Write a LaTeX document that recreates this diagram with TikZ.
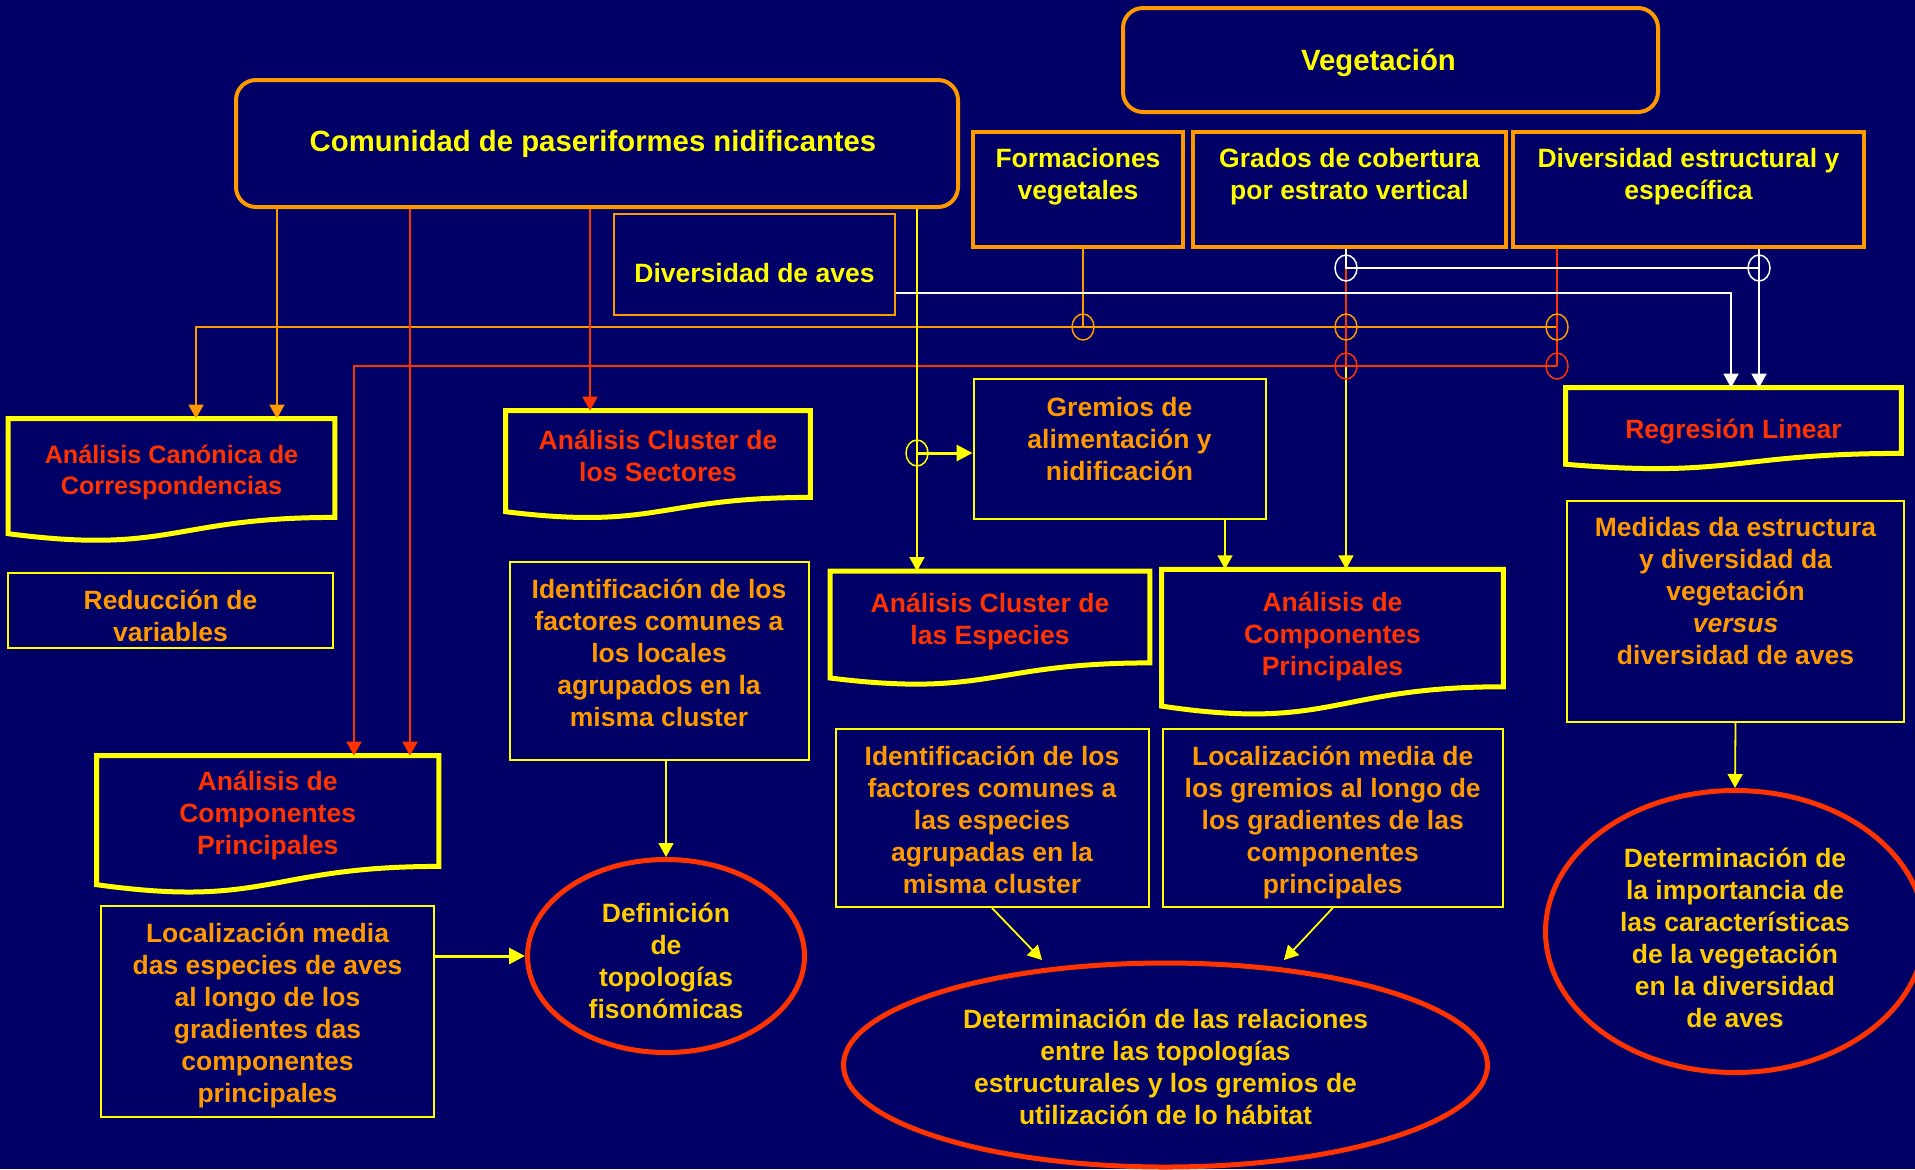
\documentclass[tikz,border=0pt]{standalone}
\usepackage{fontspec}
\setmainfont{Liberation Sans}
\usetikzlibrary{arrows.meta,calc,shapes.geometric}
\definecolor{bgnavy}{RGB}{0,0,102}
\definecolor{cyel}{RGB}{255,255,0}
\definecolor{corg}{RGB}{255,153,0}
\definecolor{cred}{RGB}{255,51,0}
\definecolor{cgold}{RGB}{255,204,0}
\newcommand{\pushup}[1]{\rule[-#1]{0pt}{0pt}}
\newcommand{\pushdn}[1]{\rule{0pt}{#1}}
\newcommand{\docborder}[1]{%
  \draw[docline] (#1.north west) -- (#1.north east) -- (#1.south east)
    .. controls (#1.south) and ($(#1.north)!1.381!(#1.south)$)
    .. ($(#1.north west)!1.1646!(#1.south west)$) -- cycle;}
\tikzset{
  basefont/.style={font=\fontsize{13.25}{16}\selectfont\bfseries},
  bigfont/.style={font=\fontsize{14.65}{17.6}\selectfont\bfseries},
  smallfont/.style={font=\fontsize{12.6}{15.3}\selectfont\bfseries},
  tbox/.style={basefont, align=center, inner sep=0pt},
  roundbox/.style={tbox, bigfont, draw=corg, line width=2pt, rounded corners=10pt, text=cyel},
  topbox/.style={tbox, draw=corg, line width=2pt, text=cyel},
  avesbox/.style={tbox, draw=corg, line width=1pt, text=cyel},
  docnode/.style={tbox, text=cred},
  docline/.style={draw=cyel, line width=2.5pt, line join=miter},
  thinbox/.style={tbox, draw=cyel, line width=1pt, text=corg},
  bigell/.style={tbox, ellipse, draw=cred, line width=2.5pt, text=cgold},
  jell/.style={ellipse, inner sep=0pt, minimum width=11pt, minimum height=13pt, line width=0.75pt},
  con/.style={line width=0.9pt},
  arr/.style={-{Triangle[length=7pt,width=7.5pt]}},
  thickarr/.style={line width=1.5pt, -{Triangle[length=8pt,width=8pt]}},
}
\begin{document}
\begin{tikzpicture}[x=0.5pt,y=-0.5pt]
\useasboundingbox (0,0) rectangle (1915,1169);
\fill[bgnavy] (0,0) rectangle (1915,1169);

% ---------- top boxes
\node[roundbox, minimum width=267.5pt, minimum height=52pt] (veg) at (1390.5,60) {\pushdn{13.4pt}Vegetación\hspace*{12pt}};
\node[roundbox, minimum width=361pt, minimum height=63.5pt] (com) at (597,143.5) {Comunidad de paseriformes nidificantes\hspace*{4pt}};
\node[topbox, minimum width=105pt, minimum height=57.5pt] (form) at (1078,189.5) {Formaciones\\vegetales\pushup{15.3pt}};
\node[topbox, minimum width=156.5pt, minimum height=57.5pt] (grad) at (1349.5,189.5) {Grados de cobertura\\por estrato vertical\pushup{15.3pt}};
\node[topbox, minimum width=175.5pt, minimum height=57.5pt] (dive) at (1688.5,189.5) {Diversidad estructural y\\específica\pushup{15.3pt}};
\node[avesbox, minimum width=140.5pt, minimum height=50.5pt] (aves) at (754.5,264.5) {\pushdn{18pt}Diversidad de aves};

% ---------- document shapes
\node[docnode, smallfont, minimum width=163pt, minimum height=49pt] (acc) at (171.5,468) {\pushdn{13.5pt}Análisis Canónica de\\Correspondencias};
\node[docnode, minimum width=152pt, minimum height=43pt] (cls) at (658,454) {\pushdn{12.1pt}Análisis Cluster de\\los Sectores};
\node[docnode, minimum width=167.5pt, minimum height=32.5pt] (reg) at (1733.5,420.5) {\pushdn{21.1pt}Regresión Linear};
\node[docnode, minimum width=159.5pt, minimum height=45.5pt] (cle) at (990,617) {\pushdn{14.7pt}Análisis Cluster de\\las Especies};
\node[docnode, minimum width=170.5pt, minimum height=58.35pt] (acpr) at (1332.5,628) {\pushdn{18.1pt}Análisis de\\Componentes\\Principales};
\node[docnode, minimum width=170.75pt, minimum height=55pt] (acpl) at (267.7,811) {\pushdn{14.7pt}Análisis de\\Componentes\\Principales};
\docborder{acc}
\docborder{cls}
\docborder{reg}
\docborder{cle}
\docborder{acpr}
\docborder{acpl}

% ---------- thin boxes
\node[thinbox, minimum width=162.5pt, minimum height=37.5pt] (redv) at (170.5,610.5) {\pushdn{15.5pt}Reducción de\\variables};
\node[thinbox, minimum width=149.5pt, minimum height=99pt] (ids) at (659,661) {Identificación de los\\factores comunes a\\los locales\\agrupados en la\\misma cluster\pushup{8.4pt}};
\node[thinbox, minimum width=146pt, minimum height=70pt] (gre) at (1119.5,449) {Gremios de\\alimentación y\\nidificación\pushup{10.5pt}};
\node[thinbox, minimum width=168.5pt, minimum height=110.5pt] (med) at (1735.5,611.5) {Medidas da estructura\\y diversidad da\\vegetación\\{\itshape versus}\\diversidad de aves\pushup{20.5pt}};
\node[thinbox, minimum width=156.5pt, minimum height=89pt] (ide) at (992,818) {\pushdn{12.1pt}Identificación de los\\factores comunes a\\las especies\\agrupadas en la\\misma cluster};
\node[thinbox, minimum width=170pt, minimum height=89pt] (locg) at (1332.7,818) {\pushdn{14.7pt}Localización media de\\los gremios al longo de\\los gradientes de las\\componentes\\principales};
\node[thinbox, minimum width=166.5pt, minimum height=105.5pt] (locd) at (267.5,1011.5) {\pushdn{13.4pt}Localización media\\das especies de aves\\al longo de los\\gradientes das\\componentes\\principales};

% ---------- result ellipses
\node[bigell, minimum width=138.5pt, minimum height=96.5pt] (def) at (666,956) {\pushdn{14.7pt}Definición\\de\\topologías\\fisonómicas};
\node[bigell, minimum width=322pt, minimum height=102pt] (rel) at (1165.5,1065) {\pushdn{12.1pt}Determinación de las relaciones\\entre las topologías\\estructurales y los gremios de\\utilización de lo hábitat};
\node[bigell, minimum width=189.5pt, minimum height=141pt] (imp) at (1735,931.5) {\pushdn{15.7pt}Determinación de\\la importancia de\\las características\\de la vegetación\\en la diversidad\\de aves};

% ---------- helper coordinates
\coordinate (xa) at (277,0);
\coordinate (xb) at (196,0);
\coordinate (xc) at (354,0);
\coordinate (xd) at (410,0);
\coordinate (xe) at (590,0);
\coordinate (xf) at (917,0);
\coordinate (xg) at (1083,0);
\coordinate (xh) at (1346,0);
\coordinate (xi) at (1557,0);
\coordinate (xj) at (1759,0);
\coordinate (xk) at (1731,0);
\coordinate (xl) at (1225,0);
\coordinate (wy) at (0,293);
\coordinate (jo1) at (1083,327);
\coordinate (jo2) at (1346,327);
\coordinate (jo3) at (1557,327);
\coordinate (jr1) at (1346,366);
\coordinate (jr2) at (1557,366);
\coordinate (jw1) at (1346,268);
\coordinate (jw2) at (1759,268);
\coordinate (jy) at (917,453);
\coordinate (ra) at (1042,960);
\coordinate (rb) at (1284,960);

% ---------- buses and connectors
\draw[con,corg] (form.south -| xg) -- (jo1);
\draw[con,corg,arr] (jo3) -| (acc.north -| xb);
\draw[con,cyel,arr] (grad.south -| xh) -- (acpr.north -| xh);
\draw[con,cyel,arr] (gre.south -| xl) -- (acpr.north -| xl);
\draw[con,cred] (grad.south -| xh) -- (jr1);
\draw[con,cred] (dive.south -| xi) -- (jr2);
\draw[con,cred,arr] (jr2) -| (acpl.north -| xc);
\draw[con,white] (grad.south -| xh) -- (jw1) -- (jw2);
\draw[con,white,arr] (dive.south -| xj) -- (reg.north -| xj);
\draw[con,white,arr] (aves.east |- wy) -| (reg.north -| xk);

\draw[con,corg,arr] (com.south -| xa) -- (acc.north -| xa);
\draw[con,cred,arr] (com.south -| xd) -- (acpl.north -| xd);
\draw[con,cred,arr] (com.south -| xe) -- (cls.north -| xe);
\draw[con,cyel,arr] (com.south -| xf) -- (cle.north -| xf);
\draw[thickarr,cyel] (jy) -- (jy -| gre.west);

\draw[con,cyel,arr] (ids.south -| def.north) -- (def.north);
\draw[thickarr,cyel] (locd.east |- def.west) -- (def.west);
\draw[con,cyel,arr] (ide.south) -- (ra);
\draw[con,cyel,arr] (locg.south) -- (rb);
\draw[con,cyel,arr] (med.south) -- (imp.north);

% ---------- junction marks
\node[jell,draw=corg] (e1) at (jo1) {};
\node[jell,draw=corg] (e2) at (jo2) {};
\node[jell,draw=corg] (e3) at (jo3) {};
\node[jell,draw=cred] (e4) at (jr1) {};
\node[jell,draw=cred] (e5) at (jr2) {};
\node[jell,draw=white] (e6) at (jw1) {};
\node[jell,draw=white] (e7) at (jw2) {};
\node[jell,draw=cyel] (e8) at (jy) {};
\end{tikzpicture}
\end{document}
